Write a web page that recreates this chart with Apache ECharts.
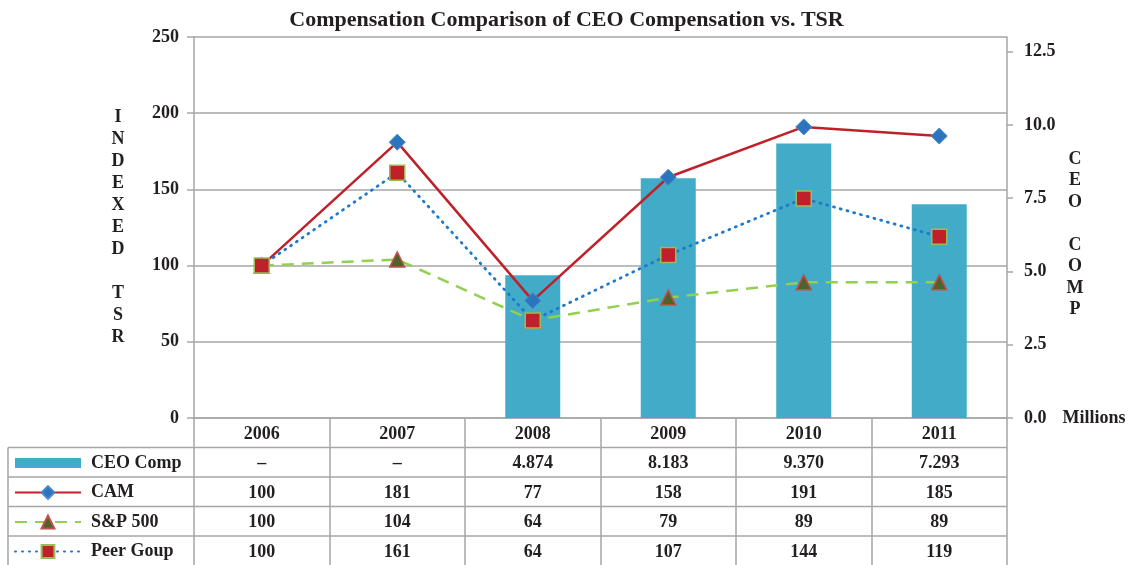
<!DOCTYPE html>
<html>
<head>
<meta charset="utf-8">
<script src="https://cdn.jsdelivr.net/npm/echarts@6/dist/echarts.min.js"></script>
<style>
  html, body { margin: 0; padding: 0; background: #fff; }
  #chart { width: 1133px; height: 565px; }
</style>
</head>
<body>
<div id="chart"></div>
<script>
// data
var years = ['2006', '2007', '2008', '2009', '2010', '2011'];
var ceoComp = [null, null, 4.874, 8.183, 9.370, 7.293];
var cam = [100, 181, 77, 158, 191, 185];
var sp500 = [100, 104, 64, 79, 89, 89];
var peerGroup = [100, 161, 64, 107, 144, 119];

var serif = "'Liberation Serif', 'Times New Roman', serif";
var ink = '#231F20';
var gridGrey = '#A6A6A6';
var fs = 18;

// table text for each row
var tableRows = [
    ceoComp.map(function (v) { return v == null ? '–' : v.toFixed(3); }),
    cam.map(String),
    sp500.map(String),
    peerGroup.map(String)
];

var myChart = echarts.init(document.getElementById('chart'));

// plot area in px
var gridLeft = 194, gridRight = 126, gridTop = 37, gridBottom = 147;
var rowH = 29.5;
var axisY = 565 - gridBottom;
var plotRight = 1133 - gridRight;

var xAxes = [{
    type: 'category',
    data: years,
    boundaryGap: true,
    axisLine: { lineStyle: { color: gridGrey, width: 1.5 } },
    axisTick: { show: true, length: 147, lineStyle: { color: gridGrey, width: 1.5 } },
    axisLabel: { margin: 7, color: ink, fontFamily: serif, fontWeight: 'bold', fontSize: fs }
}];
// one hidden axis per table row, used only for its labels
tableRows.forEach(function (row, k) {
    xAxes.push({
        type: 'category',
        data: years,
        position: 'bottom',
        offset: rowH * (k + 1),
        axisLine: { show: false },
        axisTick: { show: false },
        axisLabel: {
            margin: 7, color: ink, fontFamily: serif, fontWeight: 'bold', fontSize: fs,
            formatter: function (v, i) { return row[i]; }
        }
    });
});

// table borders
var graphics = [];
for (var k = 1; k <= 4; k++) {
    graphics.push({
        type: 'line',
        shape: { x1: 8, y1: axisY + rowH * k, x2: plotRight, y2: axisY + rowH * k },
        style: { stroke: gridGrey, lineWidth: 1.5 }
    });
}
graphics.push({
    type: 'line',
    shape: { x1: 8, y1: axisY + rowH, x2: 8, y2: 565 },
    style: { stroke: gridGrey, lineWidth: 1.5 }
});

var option = {
    backgroundColor: '#fff',
    animation: false,
    title: {
        text: 'Compensation Comparison of CEO Compensation vs. TSR',
        left: 'center',
        top: 4,
        textStyle: { fontFamily: serif, fontWeight: 'bold', fontSize: 22, color: ink }
    },
    legend: {
        orient: 'vertical',
        left: 14,
        top: 453,
        height: 120,
        padding: 0,
        itemWidth: 66,
        itemHeight: 16,
        itemGap: 9.5,
        data: [
            // flat bar icon: the move-to points keep the box 16 high
            { name: 'CEO Comp', icon: 'path://M0,0M0,3L66,3L66,13L0,13ZM66,16' },
            { name: 'CAM' },
            { name: 'S&P 500' },
            { name: 'Peer Goup' }
        ],
        textStyle: { fontFamily: serif, fontWeight: 'bold', fontSize: fs, lineHeight: 20, color: ink, padding: [0, 0, 0, 5] }
    },
    grid: {
        left: gridLeft, right: gridRight, top: gridTop, bottom: gridBottom,
        containLabel: false, outerBoundsMode: 'none'
    },
    xAxis: xAxes,
    yAxis: [{
        type: 'value',
        min: 0,
        max: 250,
        interval: 50,
        name: 'I\nN\nD\nE\nX\nE\nD\n\nT\nS\nR',
        nameLocation: 'middle',
        nameRotate: 0,
        nameGap: 76,
        nameMoveOverlap: false,
        nameTextStyle: { align: 'center', verticalAlign: 'middle', lineHeight: 22, fontFamily: serif, fontWeight: 'bold', fontSize: fs, color: ink },
        axisLine: { show: true, lineStyle: { color: gridGrey, width: 1.5 } },
        axisTick: { show: true, length: 7, lineStyle: { color: gridGrey, width: 1.5 } },
        axisLabel: { margin: 15, color: ink, fontFamily: serif, fontWeight: 'bold', fontSize: fs },
        splitLine: { show: true, lineStyle: { color: gridGrey, width: 1.5 } }
    }, {
        type: 'value',
        min: 0,
        max: 13,
        interval: 2.5,
        position: 'right',
        name: '{s| }\nC\nE\nO\n\nC\nO\nM\nP',
        nameLocation: 'middle',
        nameRotate: 0,
        nameGap: 68,
        nameMoveOverlap: false,
        nameTextStyle: {
            align: 'center', verticalAlign: 'middle', lineHeight: 21.5, fontFamily: serif, fontWeight: 'bold', fontSize: fs, color: ink,
            rich: { s: { lineHeight: 14, fontSize: 10 } }
        },
        axisLine: { show: true, lineStyle: { color: gridGrey, width: 1.5 } },
        axisTick: { show: true, length: 6, lineStyle: { color: gridGrey, width: 1.5 } },
        axisLabel: {
            margin: 17, color: ink, fontFamily: serif, fontWeight: 'bold', fontSize: fs,
            showMaxLabel: false,
            formatter: function (v) {
                return v === 0 ? '{a|0.0}{m|Millions}' : v.toFixed(1);
            },
            rich: {
                a: { fontFamily: serif, fontWeight: 'bold', fontSize: fs, color: ink },
                m: { fontFamily: serif, fontWeight: 'bold', fontSize: fs, color: ink, padding: [0, 0, 0, 16] }
            }
        },
        splitLine: { show: false }
    }],
    series: [
        {
            name: 'CEO Comp',
            type: 'bar',
            yAxisIndex: 1,
            barWidth: 55,
            itemStyle: { color: '#41ABC8' },
            data: ceoComp
        },
        {
            name: 'CAM',
            type: 'line',
            symbol: 'diamond',
            symbolSize: 16,
            itemStyle: { color: '#2B74BE', borderColor: '#4A86C8', borderWidth: 1 },
            lineStyle: { color: '#C0202A', width: 2.5 },
            data: cam
        },
        {
            name: 'S&P 500',
            type: 'line',
            symbol: 'triangle',
            symbolSize: 15,
            itemStyle: { color: '#4F6228', borderColor: '#C0504D', borderWidth: 1.5 },
            lineStyle: { color: '#92D050', width: 2.5, type: [12, 8] },
            data: sp500
        },
        {
            name: 'Peer Goup',
            type: 'line',
            symbol: 'rect',
            symbolSize: 15,
            itemStyle: { color: '#C0202A', borderColor: '#9BBB59', borderWidth: 1.5 },
            lineStyle: { color: '#1F78C8', width: 2.8, type: [1, 6], cap: 'round' },
            data: peerGroup
        }
    ],
    graphic: graphics
};

myChart.setOption(option);
</script>
</body>
</html>
